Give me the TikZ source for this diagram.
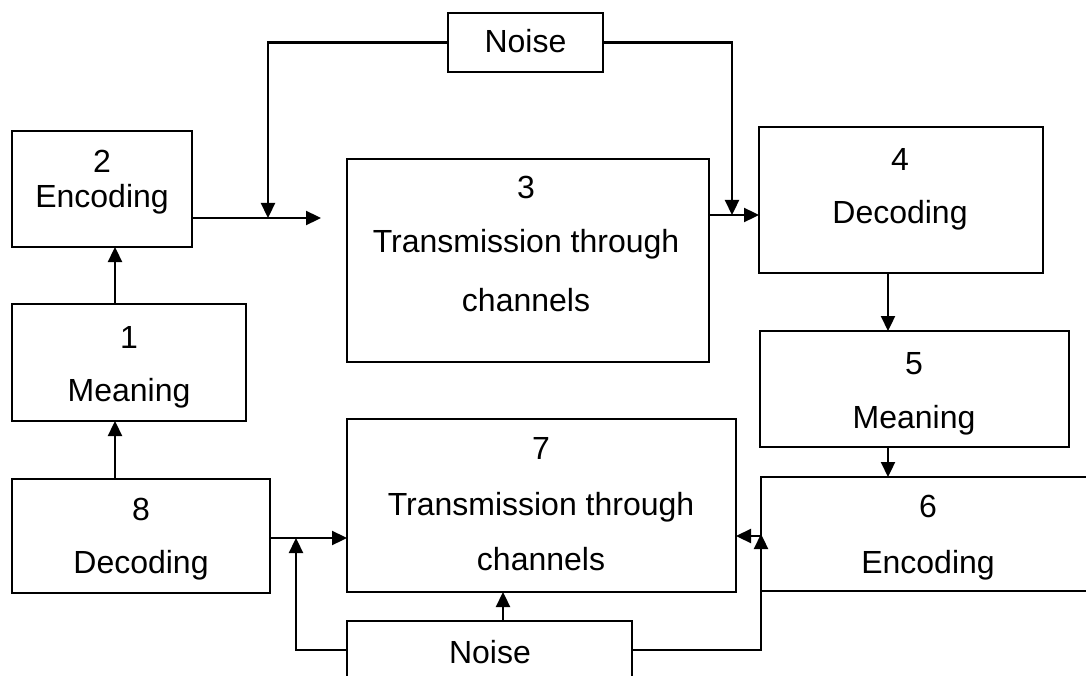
\documentclass[tikz,border=0pt]{standalone}
\usepackage{fontspec}
\setmainfont{Liberation Sans}
\usetikzlibrary{arrows.meta}
\begin{document}
\begin{tikzpicture}[x=1pt,y=-1pt,
  box/.style={draw=black, line width=2.3pt, rectangle, inner sep=0pt, outer sep=0pt},
  lbl/.style={font=\fontsize{32}{38}\selectfont, anchor=base, inner sep=0pt},
  conn/.style={line width=2.3pt},
  arr/.style={conn, -{Triangle[length=15pt,width=14pt]}}]
\useasboundingbox (0,0) rectangle (1086,676);
\clip (0,0) rectangle (1086,676);
\fill[white] (0,0) rectangle (1086,676);

% boxes
\node[box, minimum width=155pt, minimum height=59pt]  (nt) at (525.5,42.5) {};
\node[box, minimum width=180pt, minimum height=116pt] (b2) at (102,189) {};
\node[box, minimum width=234pt, minimum height=117pt] (b1) at (129,362.5) {};
\node[box, minimum width=258pt, minimum height=114pt] (b8) at (141,536) {};
\node[box, minimum width=362pt, minimum height=203pt] (b3) at (528,260.5) {};
\node[box, minimum width=284pt, minimum height=146pt] (b4) at (901,200) {};
\node[box, minimum width=309pt, minimum height=116pt] (b5) at (914.5,389) {};
\node[box, minimum width=339pt, minimum height=114pt] (b6) at (930.5,534) {};
\node[box, minimum width=389pt, minimum height=173pt] (b7) at (541.5,505.5) {};
\node[box, minimum width=285pt, minimum height=58pt]  (nb) at (489.5,650) {};

% texts
\node[lbl] (tn) at (525.5,53) {Noise};
\node[lbl] (t2a) at (102,173) {2};
\node[lbl] (t2b) at (102,208) {Encoding};
\node[lbl] (t1a) at (129,348) {1};
\node[lbl] (t1b) at (129,401) {Meaning};
\node[lbl] (t8a) at (141,520) {8};
\node[lbl] (t8b) at (141,573) {Decoding};
\node[lbl] (t3a) at (526,199) {3};
\node[lbl] (t3b) at (526,253) {Transmission through};
\node[lbl] (t3c) at (526,311) {channels};
\node[lbl] (t4a) at (900,171) {4};
\node[lbl] (t4b) at (900,224) {Decoding};
\node[lbl] (t5a) at (914,374) {5};
\node[lbl] (t5b) at (914,428) {Meaning};
\node[lbl] (t6a) at (928,517) {6};
\node[lbl] (t6b) at (928,573) {Encoding};
\node[lbl] (t7a) at (541,459) {7};
\node[lbl] (t7b) at (541,515) {Transmission through};
\node[lbl] (t7c) at (541,570) {channels};
\node[lbl] (tnb) at (490,663) {Noise};

% helper coordinates
\coordinate (c1) at (321,218);
\coordinate (j1) at (268,218);
\coordinate (j2) at (732,215);
\coordinate (j3) at (296,538);
\coordinate (j4) at (761,534);
\coordinate (x115) at (115,0);
\coordinate (x888) at (888,0);
\coordinate (x503) at (503,0);

% connectors
\draw[arr] (b1.north -| x115) -- (b2.south -| x115);
\draw[arr] (b8.north -| x115) -- (b1.south -| x115);
\draw[arr] (b2.east |- c1) -- (c1);
\draw[arr] (nt.west) -| (j1);
\draw[arr] (nt.east) -| (j2);
\draw[arr] (b3.east |- j2) -- (b4.west |- j2);
\draw[arr] (b4.south -| x888) -- (b5.north -| x888);
\draw[arr] (b5.south -| x888) -- (b6.north -| x888);
\draw[arr] (b6.west |- 0,536) -- (b7.east |- 0,536);
\draw[arr] (nb.east) -| (j4);
\draw[arr] (b8.east |- j3) -- (b7.west |- j3);
\draw[arr] (nb.west) -| (j3);
\draw[arr] (nb.north -| x503) -- (b7.south -| x503);
\end{tikzpicture}
\end{document}
